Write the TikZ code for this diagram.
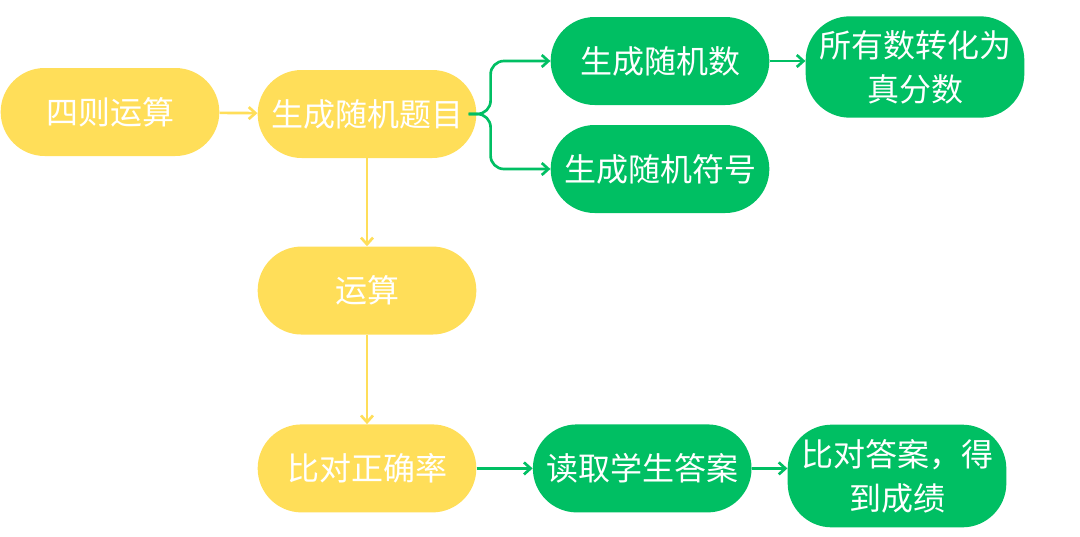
\documentclass[tikz,border=0pt]{standalone}
\usepackage{fontspec}
\setmainfont{Noto Sans CJK SC}
\usetikzlibrary{arrows.meta,positioning}
\definecolor{YL}{RGB}{255,222,89}
\definecolor{GR}{RGB}{0,191,99}
\tikzset{
  % yellow step
  ybox/.style={
    fill=YL, draw=none, rounded corners=33pt,
    minimum width=164pt, minimum height=66pt,
    align=center, inner sep=2pt, text=white,
    font=\fontsize{24}{33}\selectfont
  },
  % green step
  gbox/.style={
    fill=GR, draw=none, rounded corners=33pt,
    minimum width=164pt, minimum height=66pt,
    align=center, inner sep=2pt, text=white,
    font=\fontsize{24}{33}\selectfont
  },
  yarr/.style={-{Straight Barb[length=5pt,width=9pt]}, line width=2pt, YL},
  garr/.style={-{Straight Barb[length=5pt,width=9pt]}, line width=2pt, GR},
}
\begin{document}
\begin{tikzpicture}[x=0.75pt,y=-0.75pt]
\useasboundingbox (0,0) rectangle (1080,536);

% ── Main column ─────────────────────────────────────────────────────────────
\node[ybox] (arith) at (110,112) {四则运算};
\node[ybox] (gen) at (367,114) {生成随机题目};
\node[ybox, below=66pt of gen] (calc) {运算};
\node[ybox, below=67pt of calc] (cmp) {比对正确率};

% ── Branches ────────────────────────────────────────────────────────────────
\node[gbox] (num) at (660,61) {生成随机数};
\node[gbox] (sym) at (660,169) {生成随机符号};
\node[gbox, minimum height=76pt] (conv) at (915,67) {所有数转化为\\真分数};
\node[gbox, right=42pt of cmp] (read) {读取学生答案};
\node[gbox, minimum height=77pt] (final) at (897,476) {比对答案，得\\到成绩};

% ── Arrows ──────────────────────────────────────────────────────────────────
\draw[yarr] (arith) -- (gen);
\draw[yarr] (gen) -- (calc);
\draw[yarr] (calc) -- (cmp);
\draw[garr, rounded corners=10pt] ([xshift=-6pt]gen.east) -- ++(22,0) |- (num.west);
\draw[garr, rounded corners=10pt] ([xshift=-6pt]gen.east) -- ++(22,0) |- (sym.west);
\draw[garr] (num) -- (num -| conv.west);
\draw[garr] (cmp) -- (read);
\draw[garr] (read) -- (read -| final.west);

\end{tikzpicture}
\end{document}
